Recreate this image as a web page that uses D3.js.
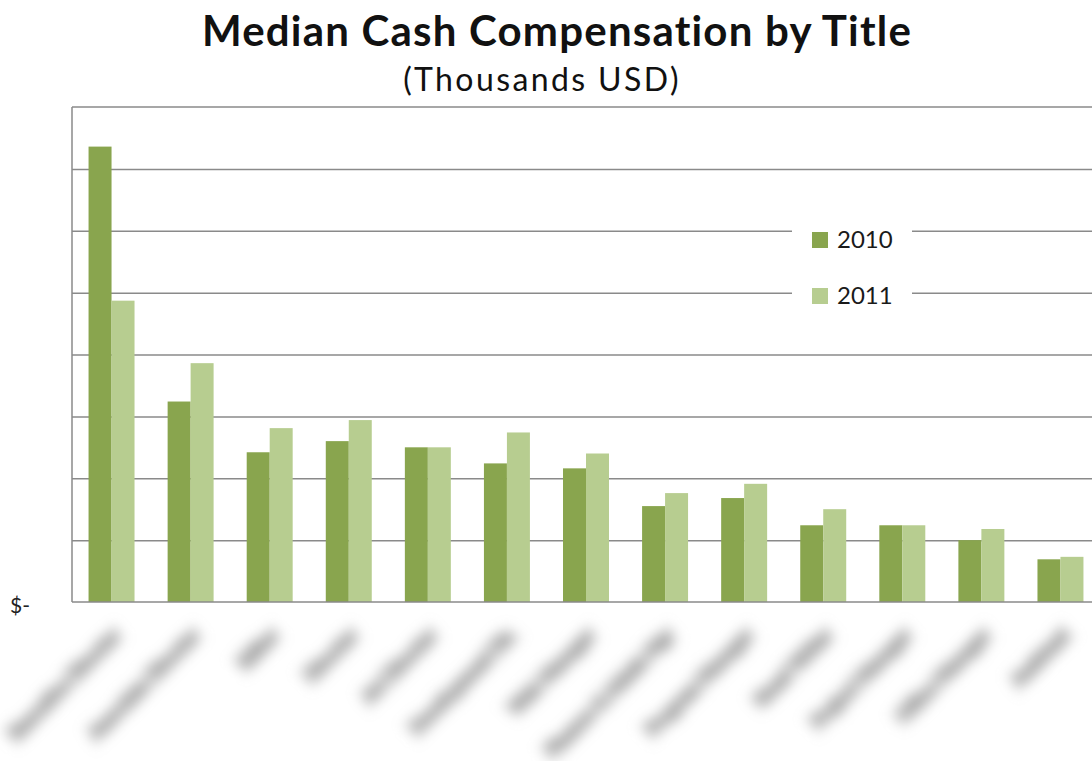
<!DOCTYPE html>
<html>
<head>
<meta charset="utf-8">
<script src="https://cdn.jsdelivr.net/npm/d3@7"></script>
<style>
  html, body { margin: 0; padding: 0; background: #fff; }
  svg { display: block; }
</style>
</head>
<body>
<svg id="chart" width="1092" height="761"></svg>
<script>
// Job titles (labels are rendered softened, as in the published version)
const titles = [
  "Executive Director", "Associate Director", "Editor", "Director",
  "Art Director", "Development Dir.", "Web Manager",
  "Finance & Admin Mgr", "Program Manager", "Grant Writer",
  "Project Manager", "Office Manager", "Assistant"
];
const years = ["2010", "2011"];
// Median cash compensation, thousands USD
const comp2010 = [368, 162, 121, 130, 125, 112, 108, 77.5, 84, 62, 62, 50, 34.5];
const comp2011 = [243.5, 193, 140.5, 147, 125, 137, 120, 88, 95.5, 75, 62, 59, 36.5];
const yMax = 400;
const gridTicks = [50, 100, 150, 200, 250, 300, 350];

const colors = { "2010": "#89a54e", "2011": "#b7cd90" };
const gridColor = "#8a8a8a";

const svg = d3.select("#chart");
const plotLeft = 72, plotRight = 1100, plotTop = 107, plotBottom = 602;

const rows = titles.map((t, i) => ({ title: t, values: { "2010": comp2010[i], "2011": comp2011[i] } }));

const x0 = d3.scaleBand().domain(titles).range([plotLeft, plotRight]).padding(0);
const x1 = d3.scaleBand().domain(years).range([0, x0.bandwidth()]).paddingInner(0).paddingOuter(0.72);
const y = d3.scaleLinear().domain([0, yMax]).range([plotBottom, plotTop]);

// blur filter for the softened category labels
const defs = svg.append("defs");
defs.append("filter").attr("id", "soft").attr("x", "-30%").attr("y", "-100%").attr("width", "160%").attr("height", "300%")
  .append("feGaussianBlur").attr("stdDeviation", 7);

// gridlines
svg.append("g")
  .attr("transform", `translate(${plotLeft},0)`)
  .call(d3.axisLeft(y).tickValues(gridTicks).tickSize(-(plotRight - plotLeft)).tickFormat(""))
  .call(g => g.select(".domain").remove())
  .call(g => g.selectAll("line").attr("stroke", gridColor).attr("stroke-width", 1.5));

// plot-area frame: top and left edges
svg.append("line").attr("x1", plotLeft).attr("x2", plotRight).attr("y1", y(yMax)).attr("y2", y(yMax))
  .attr("stroke", gridColor).attr("stroke-width", 1.5);
svg.append("line").attr("x1", plotLeft).attr("x2", plotLeft).attr("y1", y(yMax)).attr("y2", y(0))
  .attr("stroke", gridColor).attr("stroke-width", 1.5);

// bars
const groups = svg.append("g").selectAll("g").data(rows).join("g")
  .attr("transform", d => `translate(${x0(d.title)},0)`);
groups.selectAll("rect").data(d => years.map(k => ({ key: k, value: d.values[k] }))).join("rect")
  .attr("x", d => x1(d.key))
  .attr("width", x1.bandwidth())
  .attr("y", d => y(d.value))
  .attr("height", d => y(0) - y(d.value))
  .attr("fill", d => colors[d.key]);

// baseline
svg.append("line").attr("x1", plotLeft).attr("x2", plotRight).attr("y1", y(0)).attr("y2", y(0))
  .attr("stroke", gridColor).attr("stroke-width", 1.5);

// y axis zero label
svg.append("g")
  .attr("transform", `translate(${plotLeft},0)`)
  .call(d3.axisLeft(y).tickValues([0]).tickSize(0).tickFormat(() => "$-"))
  .call(g => g.select(".domain").remove())
  .call(g => g.selectAll("text")
    .attr("x", -62).attr("dy", "0.5em").attr("text-anchor", "start")
    .attr("font-family", "Lato, 'Open Sans', sans-serif").attr("font-size", 21).attr("fill", "#222"));

// category labels, rotated and softened
svg.append("g").selectAll("text").data(titles).join("text")
  .attr("transform", d => `translate(${x0(d) + x0.bandwidth() / 2 + 6},632) rotate(-45)`)
  .attr("text-anchor", "end")
  .attr("dy", "0.35em")
  .attr("font-family", "Lato, sans-serif")
  .attr("font-size", 18)
  .attr("font-weight", 700)
  .attr("fill", "#a2a2a2")
  .attr("stroke", "#a2a2a2")
  .attr("stroke-width", 3)
  .attr("filter", "url(#soft)")
  .text(d => d);

// legend
const legend = svg.append("g");
legend.append("rect").attr("x", 792).attr("y", 214).attr("width", 120).attr("height", 104).attr("fill", "#fff");
const items = legend.selectAll("g").data(years).join("g")
  .attr("transform", (d, i) => `translate(812,${232 + i * 56})`);
items.append("rect").attr("width", 16).attr("height", 16).attr("fill", d => colors[d]);
items.append("text").attr("x", 25).attr("y", 16)
  .attr("font-family", "Lato, sans-serif").attr("font-size", 24).attr("fill", "#1a1a1a")
  .text(d => d);

// titles
svg.append("text").attr("x", 557).attr("y", 46).attr("text-anchor", "middle")
  .attr("font-family", "Lato, sans-serif").attr("font-weight", 700).attr("font-size", 42)
  .attr("letter-spacing", 1.2).attr("fill", "#111")
  .text("Median Cash Compensation by Title");
svg.append("text").attr("x", 542).attr("y", 91).attr("text-anchor", "middle")
  .attr("font-family", "Lato, sans-serif").attr("font-size", 32)
  .attr("letter-spacing", 2.4).attr("fill", "#111")
  .text("(Thousands USD)");
</script>
</body>
</html>
